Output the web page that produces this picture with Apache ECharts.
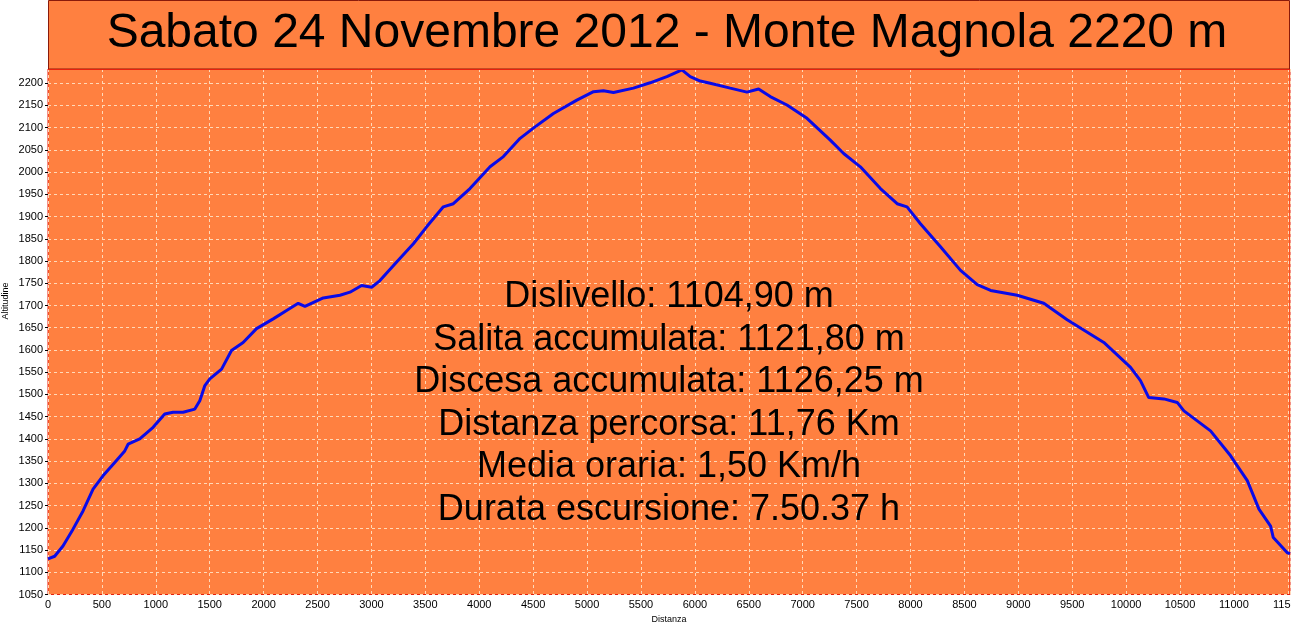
<!DOCTYPE html>
<html>
<head>
<meta charset="utf-8">
<script src="https://cdn.jsdelivr.net/npm/echarts@6/dist/echarts.min.js"></script>
<style>html,body{margin:0;padding:0;background:#fff}#c{width:1291px;height:628px}</style>
</head>
<body>
<div id="c"></div>
<script>
const titleText = "Sabato 24 Novembre 2012 - Monte Magnola 2220 m";
const statsLines = [
  "Dislivello: 1104,90 m",
  "Salita accumulata: 1121,80 m",
  "Discesa accumulata: 1126,25 m",
  "Distanza percorsa: 11,76 Km",
  "Media oraria: 1,50 Km/h",
  "Durata escursione: 7.50.37 h"
];
const distance = [0,16,62,139,232,325,418,510,619,712,743,851,975,1083,1160,1253,1362,1408,1455,1501,1610,1702,1810,1934,2089,2213,2321,2383,2553,2708,2801,2909,3002,3079,3234,3389,3512,3667,3760,3914,4100,4224,4379,4502,4688,4905,5060,5152,5245,5430,5585,5740,5880,5957,6050,6142,6328,6483,6591,6699,6854,7040,7256,7380,7535,7721,7876,7968,8092,8278,8464,8619,8743,8990,9236,9453,9793,10041,10133,10210,10350,10474,10536,10783,10969,11124,11232,11340,11365,11495,11520];
const altitude = [1130,1129,1136,1159,1197,1238,1287,1317,1347,1373,1388,1400,1426,1456,1460,1460,1467,1486,1520,1535,1557,1599,1617,1648,1670,1689,1705,1698,1717,1723,1730,1745,1741,1756,1798,1839,1877,1922,1929,1963,2012,2035,2076,2099,2132,2162,2181,2183,2179,2189,2201,2215,2230,2215,2205,2200,2189,2180,2187,2170,2151,2121,2072,2042,2012,1963,1929,1922,1884,1832,1779,1747,1734,1723,1705,1668,1617,1561,1531,1493,1490,1482,1463,1418,1362,1306,1242,1204,1178,1144,1142];
const xAxisName = "Distanza";
const yAxisName = "Altitudine";

const ORANGE = '#FF8040';
const chart = echarts.init(document.getElementById('c'), null, {renderer:'canvas'});
const font = 'Liberation Sans, Arial, sans-serif';
const statsGraphics = statsLines.map((t, i) => ({
  type: 'text', z: 100,
  style: {text: t, x: 669, y: 297 + i * 42.6, textAlign: 'center', textVerticalAlign: 'middle',
    font: '36px ' + font, fill: '#000'}
}));
chart.setOption({
  animation: false,
  backgroundColor: '#fff',
  grid: {left: 48, right: 1, top: 69, bottom: 33.5, show: true, backgroundColor: ORANGE,
    borderColor: '#E8200C', borderWidth: 1, containLabel: false, outerBoundsMode: 'none'},
  xAxis: {
    type: 'value', min: 0, max: 11520, interval: 500,
    axisLine: {show: false}, axisTick: {show: false},
    axisLabel: {color: '#000', fontSize: 11, fontFamily: font, margin: 5, showMaxLabel: false,
      formatter: v => String(v)},
    splitLine: {show: true, lineStyle: {color: '#FFD9B8', type: [3, 3], width: 1}}
  },
  yAxis: {
    type: 'value', min: 1050, max: 2232, interval: 50,
    axisLine: {show: false},
    axisTick: {show: true, length: 3, lineStyle: {color: '#000'}},
    axisLabel: {color: '#000', fontSize: 11, fontFamily: font, margin: 5, showMaxLabel: false,
      formatter: v => String(v)},
    splitLine: {show: true, lineStyle: {color: '#FFD9B8', type: [3, 3], width: 1}}
  },
  graphic: [
    {type: 'rect', shape: {x: 48.5, y: 0.5, width: 1241, height: 68.5}, z: 50,
      style: {fill: ORANGE, stroke: '#8A1A0A', lineWidth: 1}},
    {type: 'line', shape: {x1: 48, y1: 69.5, x2: 1290, y2: 69.5}, z: 51,
      style: {stroke: '#E8200C', lineWidth: 1}},
    {type: 'text', z: 100, style: {text: titleText, x: 667, y: 34, textAlign: 'center',
      textVerticalAlign: 'middle', font: '48px ' + font, fill: '#000'}},
    {type: 'text', z: 100, style: {text: xAxisName, x: 669, y: 620, textAlign: 'center',
      textVerticalAlign: 'middle', font: '9px ' + font, fill: '#000'}},
    {type: 'text', z: 100, x: 6, y: 301, rotation: Math.PI / 2,
      style: {text: yAxisName, x: 0, y: 0, textAlign: 'center', textVerticalAlign: 'middle',
        font: '9px ' + font, fill: '#000'}}
  ].concat(statsGraphics),
  series: [{
    type: 'line', showSymbol: false, symbol: 'none', smooth: false,
    data: distance.map((d, i) => [d, altitude[i]]),
    lineStyle: {color: '#0A0AE8', width: 3},
    z: 10
  }]
});
</script>
</body>
</html>
